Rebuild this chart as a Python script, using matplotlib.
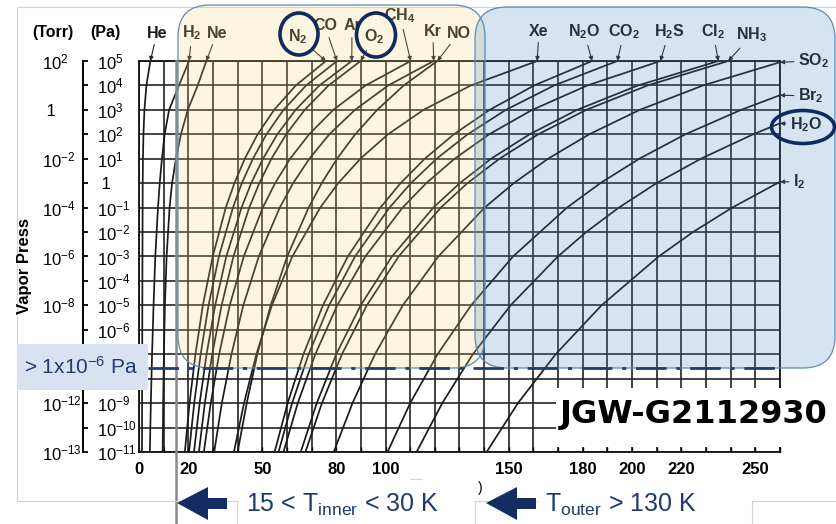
import matplotlib
matplotlib.use("Agg")
import matplotlib.pyplot as plt
from matplotlib.patches import FancyBboxPatch, Rectangle, Ellipse, Polygon
from matplotlib.lines import Line2D
from matplotlib.ticker import NullLocator

plt.rcParams['font.family'] = ['Liberation Sans', 'DejaVu Sans']
plt.rcParams['mathtext.default'] = 'regular'

P_STD = [5, 4, 3, 2, 1, 0, -1, -3, -5, -7, -9, -11]
P_HE = [5, 4, 3, 2, 1, 0, -3, -7, -11]
P_SO2 = [4.95, 4, 3, 2, 1, 0, -1, -3, -5, -7, -9, -11]
P_BR2 = [3.6, 3, 2, 1, 0, -1, -3, -5, -7, -9, -11]
P_H2O = [2.45, 2, 1, 0, -1, -2, -3, -5, -7, -9, -11]
P_I2 = [0.06, -1, -2, -3, -5, -7, -9, -11]

# temperatures (K)
T_HE = [4.6, 3.0, 2.2, 1.8, 1.6, 1.5, 1.4, 1.3, 1.2]
T_H2 = [20.3, 16.2, 12.2, 10.4, 9.3, 8.4, 7.7, 6.6, 5.9, 5.3, 4.8, 4.4]
T_NE = [27.3, 23.8, 19.8, 17.0, 15.0, 13.4, 12.4, 11.2, 10.5, 10.1, 9.8, 9.6]
T_N2 = [75.8, 63.6, 54.8, 48.1, 42.9, 38.7, 35.2, 29.9, 25.9, 22.9, 20.5, 18.6]
T_CO = [80.3, 67.8, 58.6, 51.7, 46.2, 41.7, 38.1, 32.4, 28.2, 25.0, 22.4, 20.3]
T_AR = [86.3, 73.2, 63.5, 56.1, 50.3, 45.5, 41.6, 35.4, 30.9, 27.4, 24.6, 22.3]
T_O2 = [89.9, 76.9, 67.2, 59.7, 53.7, 48.8, 44.7, 38.3, 33.5, 29.7, 26.7, 24.3]
T_CH4 = [110.2, 91.9, 78.8, 69.0, 61.3, 55.2, 50.2, 42.5, 36.8, 32.5, 29.1, 26.3]
T_KR = [119.5, 101.1, 87.6, 77.2, 69.1, 62.5, 57.1, 48.6, 42.3, 37.5, 33.6, 30.5]
T_NO = [121.0, 107.4, 96.6, 87.7, 80.3, 74.1, 68.8, 60.1, 53.4, 48.0, 43.7, 40.0]
T_XE = [161.5, 134.6, 115.4, 101.0, 89.8, 80.8, 73.5, 62.2, 53.9, 47.6, 42.6, 38.5]
T_N2O = [183.8, 160.3, 142.2, 127.7, 115.9, 106.1, 97.9, 84.7, 74.6, 66.7, 60.3, 55.0]
T_CO2 = [194.0, 168.4, 148.8, 133.3, 120.7, 110.3, 101.6, 87.6, 77.1, 68.8, 62.1, 56.6]
T_H2S = [211.5, 181.9, 159.5, 142.0, 128.0, 116.5, 106.9, 91.8, 80.4, 71.5, 64.4, 58.6]
T_CL2 = [235.0, 202.4, 177.7, 158.4, 142.8, 130.1, 119.4, 102.6, 89.9, 80.0, 72.1, 65.6]
T_NH3 = [239.0, 206.3, 181.4, 161.9, 146.2, 133.2, 122.4, 105.3, 92.4, 82.3, 74.2, 67.5]
T_SO2 = [260.0, 228.8, 203.1, 182.6, 165.9, 152.0, 140.2, 121.4, 107.0, 95.7, 86.6, 79.0]
T_BR2 = [260.0, 244.2, 221.6, 202.9, 187.1, 173.6, 151.7, 134.7, 121.1, 110.0, 100.8]
T_H2O = [260.0, 249.1, 227.9, 209.9, 194.6, 181.4, 169.9, 150.7, 135.4, 123.0, 112.6]
T_I2 = [260.0, 240.6, 224.7, 210.8, 187.6, 169.0, 153.7, 141.0]

GAS_NAMES = ['He', 'H$_2$', 'Ne', 'N$_2$', 'CO', 'Ar', 'O$_2$', 'CH$_4$', 'Kr', 'NO',
             'Xe', 'N$_2$O', 'CO$_2$', 'H$_2$S', 'Cl$_2$', 'NH$_3$',
             'SO$_2$', 'Br$_2$', 'H$_2$O', 'I$_2$']
GAS_T = [T_HE, T_H2, T_NE, T_N2, T_CO, T_AR, T_O2, T_CH4, T_KR, T_NO,
         T_XE, T_N2O, T_CO2, T_H2S, T_CL2, T_NH3, T_SO2, T_BR2, T_H2O, T_I2]
GAS_P = [P_HE] + [P_STD] * 15 + [P_SO2, P_BR2, P_H2O, P_I2]

X_TICKS = list(range(0, 261, 10))
X_LABELED = [0, 20, 50, 80, 100, 150, 180, 200, 220, 250]
Y_EXP = list(range(-11, 6))
# labels at 1e-7 / 1e-8 Pa (and 1e-10 Torr) sit under the threshold box
PA_LABELS = ['$10^{-11}$', '$10^{-10}$', '$10^{-9}$', '', '',
             '$10^{-6}$', '$10^{-5}$', '$10^{-4}$', '$10^{-3}$', '$10^{-2}$',
             '$10^{-1}$', ' 1', '$10^{1}$', '$10^{2}$', '$10^{3}$', '$10^{4}$', '$10^{5}$']
TORR_LABELS = ['$10^{-13}$', '', '$10^{-12}$', '', '', '', '$10^{-8}$', '',
               '$10^{-6}$', '', '$10^{-4}$', '', '$10^{-2}$', '', ' 1', '', '$10^{2}$']

# label placement in picture pixels (x, y from top) and alignment
LABEL_POS = [(157, 33, 'center'), (192, 33, 'center'), (217, 33, 'center'),
             (298, 37, 'center'), (325, 26, 'center'), (352, 26, 'center'),
             (374, 37, 'center'), (400, 16, 'center'), (433, 31, 'center'),
             (459, 33, 'center'), (539, 31, 'center'), (584, 32, 'center'),
             (624, 32, 'center'), (669, 32, 'center'), (713, 32, 'center'),
             (752, 35, 'center'), (798, 61, 'left'), (798, 96, 'left'),
             (790, 125, 'left'), (793, 182, 'left')]

W, H = 837, 524
fig = plt.figure(figsize=(W / 100, H / 100), dpi=100)
fig.patch.set_facecolor('white')
tr = fig.dpi_scale_trans


def inch(x, y):
    return x / 100, (H - y) / 100


ax = fig.add_axes([139 / W, (H - 452) / H, (780 - 139) / W, (452 - 61) / H])
ax.set_xlim(0, 260)
ax.set_yscale('log')
ax.set_ylim(1e-11, 1e5)

for T, P in zip(GAS_T, GAS_P):
    ax.plot(T, [10.0 ** p for p in P], color='#1a1a1a', lw=1.25, zorder=3)

ax.set_xticks(X_TICKS)
ax.set_xticklabels([str(t) if t in X_LABELED else '' for t in X_TICKS],
                   fontweight='bold', fontsize=12)
ax.set_yticks([10.0 ** e for e in Y_EXP])
ax.yaxis.set_minor_locator(NullLocator())
ax.set_yticklabels(PA_LABELS, fontsize=12)
plt.setp(ax.get_yticklabels(), ha='left')
ax.tick_params(axis='y', length=0, pad=30.2)
ax.tick_params(axis='x', direction='in', length=3.6, width=1.0, pad=7)
ax.grid(True, color='#222222', lw=1.2)
for s in ax.spines.values():
    s.set_linewidth(1.3)
    s.set_color('#111111')

ax.axvline(15, ymin=-0.185, ymax=1.0, color='#8a8a8a', lw=1.8, clip_on=False, zorder=4)

# Torr scale
ax2 = ax.twinx()
ax2.set_yscale('log')
ax2.set_ylim(1e-11, 1e5)
for s in ['right', 'top', 'bottom']:
    ax2.spines[s].set_visible(False)
ax2.spines['left'].set_visible(True)
ax2.spines['left'].set_position(('outward', 40.3))
ax2.spines['left'].set_linewidth(1.4)
ax2.yaxis.set_ticks_position('left')
ax2.set_yticks([10.0 ** e for e in Y_EXP])
ax2.yaxis.set_minor_locator(NullLocator())
ax2.set_yticklabels(TORR_LABELS, fontsize=12)
plt.setp(ax2.get_yticklabels(), ha='left')
ax2.tick_params(axis='y', direction='in', length=3.6, width=1.3, pad=29.5)

# gas labels with arrows to curve ends
for name, T, P, (lx, ly, ha) in zip(GAS_NAMES, GAS_T, GAS_P, LABEL_POS):
    ax.annotate(name, xy=(T[0], 10.0 ** P[0]), xytext=(lx, H - ly),
                textcoords='figure pixels', ha=ha, va='center',
                fontsize=11.5, fontweight='bold', color='#1a1a1a',
                annotation_clip=False,
                arrowprops=dict(arrowstyle='-|>', color='#222222', lw=0.8,
                                mutation_scale=6, shrinkA=1, shrinkB=0))

fig.text(*inch(53, 33), '(Torr)', transform=tr, ha='center', va='center',
         fontsize=11.5, fontweight='bold')
fig.text(*inch(105, 33), '(Pa)', transform=tr, ha='center', va='center',
         fontsize=11.5, fontweight='bold')
fig.text(*inch(25, 266), 'Vapor Press', transform=tr, ha='center', va='center',
         rotation=90, fontsize=12, fontweight='bold')
fig.text(*inch(480, 488), ')', transform=tr, ha='center', va='center', fontsize=10)

# light slide frame
for xs, ys in [((17, 837), (7, 7)), ((17, 17), (7, 501)), ((17, 237), (501, 501)),
               ((237, 237), (501, 524)), ((475, 537), (501, 501)), ((475, 475), (501, 524)),
               ((752, 837), (501, 501)), ((752, 752), (501, 524)), ((410, 422), (479, 479))]:
    fig.add_artist(Line2D([x / 100 for x in xs], [(H - y) / 100 for y in ys],
                          transform=tr, color='#d4d4d4', lw=0.8, zorder=1))

# highlighted regions
fig.add_artist(FancyBboxPatch(inch(178, 368), 3.07, 3.63,
                              boxstyle='round,pad=0,rounding_size=0.32', transform=tr,
                              fc=(0.96, 0.83, 0.48, 0.21), ec='#5d8ab8', lw=0.9, zorder=5))
fig.add_artist(FancyBboxPatch(inch(475, 368), 3.60, 3.61,
                              boxstyle='round,pad=0,rounding_size=0.32', transform=tr,
                              fc=(0.27, 0.52, 0.77, 0.22), ec='#5d8ab8', lw=0.9, zorder=5))

fig.add_artist(Line2D([1.48, 7.80], [(H - 367.5) / 100] * 2, transform=tr,
                      color='#203c73', lw=2.0, dashes=(11, 3.5, 1.5, 3.5), zorder=6))
fig.add_artist(Rectangle(inch(17, 390), 1.31, 0.46, transform=tr, fc='#d9e2f1',
                         ec='none', zorder=7))
fig.text(*inch(24, 367), r'> 1x10$^{-6}$ Pa', transform=tr, ha='left', va='center',
         fontsize=15, color='#1f3a6e', zorder=8)

fig.add_artist(Rectangle(inch(556, 447), 2.81, 0.59, transform=tr, fc='white',
                         ec='none', zorder=7))
fig.text(*inch(560, 414), 'JGW-G2112930', transform=tr, ha='left', va='center',
         fontsize=23, fontweight='bold', family='DejaVu Sans', color='black', zorder=8)

for cx, cy, w, h in [(299, 34, 38, 42), (376, 35, 39, 44), (803, 127, 63, 33)]:
    fig.add_artist(Ellipse(inch(cx, cy), w / 100, h / 100, transform=tr, fill=False,
                           ec='#0f2a5e', lw=2.6, zorder=9))

# temperature arrows at the bottom
for x0 in [177, 486]:
    pts = [(x0, 503), (x0 + 31, 487), (x0 + 31, 498), (x0 + 50, 498),
           (x0 + 50, 509), (x0 + 31, 509), (x0 + 31, 520)]
    fig.add_artist(Polygon([inch(x, y) for x, y in pts], closed=True, transform=tr,
                           fc='#132d63', ec='none', zorder=9))
fig.text(*inch(246, 505), r'15 < T$_{inner}$ < 30 K', transform=tr, ha='left',
         va='center', fontsize=18, color='#1f3a6e', zorder=9)
fig.text(*inch(545, 505), r'T$_{outer}$ > 130 K', transform=tr, ha='left',
         va='center', fontsize=18, color='#1f3a6e', zorder=9)

fig.savefig('out.png', dpi=100)
